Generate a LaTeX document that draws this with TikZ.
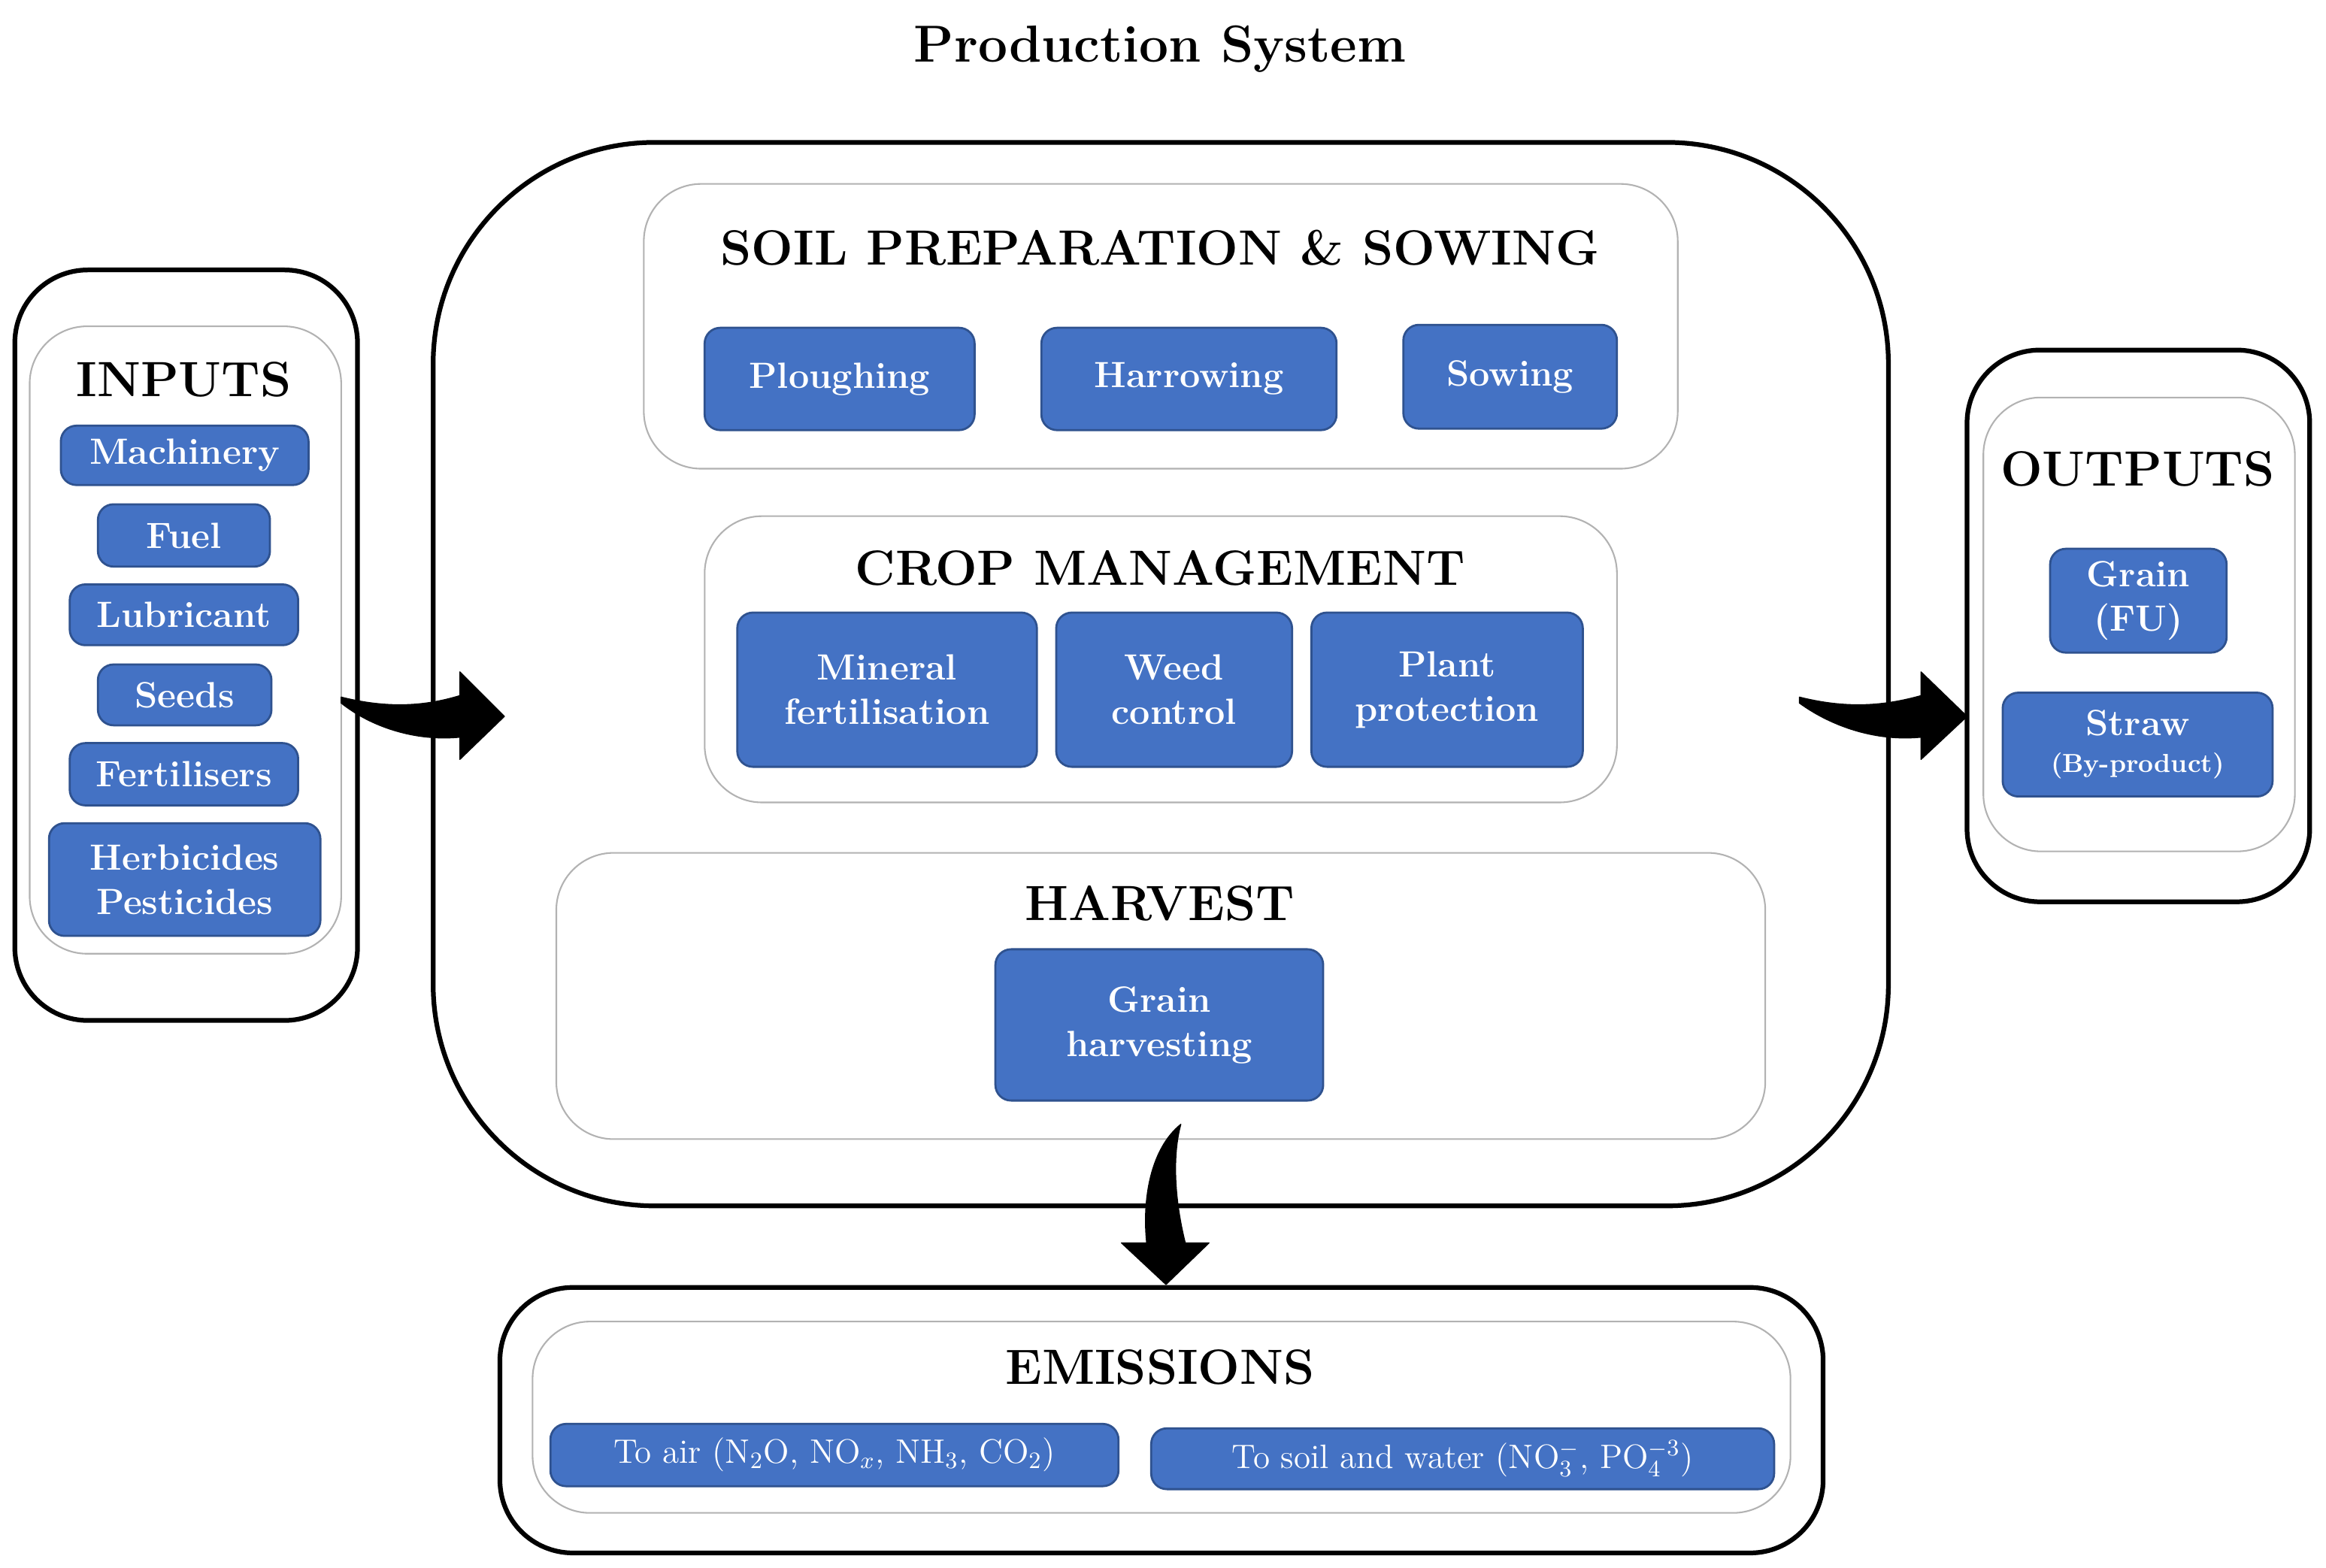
\documentclass[tikz,border=0pt]{standalone}
\usepackage{fontspec}
\definecolor{bfill}{RGB}{68,114,196}
\definecolor{bline}{RGB}{47,82,143}
\begin{document}
\begin{tikzpicture}[x=0.02cm,y=-0.02cm,
  outerbox/.style={draw=black,line width=1.8pt,rounded corners=28},
  mainbox/.style={draw=black,line width=1.8pt,rounded corners=85},
  innerbox/.style={draw=black!30,line width=0.6pt,rounded corners=22},
  bluebox/.style={draw=bline,fill=bfill,line width=0.8pt,rounded corners=6,text=white,font=\fontsize{14}{17}\selectfont\bfseries,align=center,inner sep=0pt},
  emis/.style={bluebox,font=\fontsize{13}{15}\selectfont},
  heading/.style={font=\fontsize{19}{22}\selectfont\bfseries},
  bigarrow/.style={fill=black,draw=black,line join=round}]
\useasboundingbox (0,0) rectangle (1568,1057);
\fill[white] (0,0) rectangle (1568,1057);
\node[font=\fontsize{20}{24}\selectfont\bfseries] (title) at (782,33) {Production System};
% inputs
\draw[outerbox] (10,182) rectangle (241,688);
\draw[innerbox] (20,220) rectangle (230,643);
\node[heading] (inputs) at (124,256) {INPUTS};
\node[bluebox,minimum width=3.34cm,minimum height=0.8cm] (mach) at (124.5,307) {Machinery};
\node[bluebox,minimum width=2.32cm,minimum height=0.84cm] (fuel) at (124,361) {Fuel};
\node[bluebox,minimum width=3.08cm,minimum height=0.82cm] (lub) at (124,414.5) {Lubricant};
\node[bluebox,minimum width=2.34cm,minimum height=0.82cm] (seeds) at (124.5,468.5) {Seeds};
\node[bluebox,minimum width=3.08cm,minimum height=0.84cm] (fert) at (124,522) {Fertilisers};
\node[bluebox,minimum width=3.66cm,minimum height=1.52cm] (herb) at (124.5,593) {Herbicides\\Pesticides};
% main
\draw[mainbox] (292,96) rectangle (1273,813);
\draw[innerbox] (434,124) rectangle (1131,316);
\node[heading] (soil) at (782,167) {SOIL PREPARATION \& SOWING};
\node[bluebox,minimum width=3.64cm,minimum height=1.38cm] (plough) at (566,255.5) {Ploughing};
\node[bluebox,minimum width=3.98cm,minimum height=1.38cm] (harrow) at (801.5,255.5) {Harrowing};
\node[bluebox,minimum width=2.88cm,minimum height=1.4cm] (sow) at (1018,254) {Sowing};
\draw[innerbox] (475,348) rectangle (1090,541);
\node[heading] (crop) at (782,383) {CROP MANAGEMENT};
\node[bluebox,minimum width=4.04cm,minimum height=2.08cm] (mineral) at (598,465) {Mineral\\fertilisation};
\node[bluebox,minimum width=3.18cm,minimum height=2.08cm] (weed) at (791.5,465) {Weed\\control};
\node[bluebox,minimum width=3.66cm,minimum height=2.08cm] (plant) at (975.5,465) {Plant\\protection};
\draw[innerbox] (375,575) rectangle (1190,768);
\node[heading] (harv) at (782,609) {HARVEST};
\node[bluebox,minimum width=4.42cm,minimum height=2.04cm] (grainh) at (781.5,691) {Grain\\harvesting};
% outputs
\draw[outerbox] (1326,236) rectangle (1557,608);
\draw[innerbox] (1337,268) rectangle (1547,574);
\node[heading] (outputs) at (1441,316) {OUTPUTS};
\node[bluebox,minimum width=2.38cm,minimum height=1.4cm] (grain) at (1441.5,405) {Grain\\(FU)};
\node[bluebox,minimum width=3.64cm,minimum height=1.4cm] (straw) at (1441,502) {Straw\\[-3pt]{\fontsize{10}{12}\selectfont(By-product)}};
% emissions
\draw[outerbox] (337,868) rectangle (1229,1047);
\draw[innerbox] (359,891) rectangle (1207,1020);
\node[heading] (emhead) at (782,922) {EMISSIONS};
\node[emis,minimum width=7.66cm,minimum height=0.84cm] (air) at (562.5,981) {To air (N$_2$O, NO$_x$, NH$_3$, CO$_2$)};
\node[emis,minimum width=8.4cm,minimum height=0.82cm] (soilw) at (986,983.5) {To soil and water (NO$_3^{-}$, PO$_4^{-3}$)};
% arrows
\fill[bigarrow] (230,470) .. controls (262,478) and (287,476) .. (310,469) -- (310,453) -- (340,483) -- (310,512) -- (310,497) .. controls (280,500) and (250,490) .. (230,474) -- cycle;
\fill[bigarrow] (1213,470) .. controls (1245,478) and (1270,476) .. (1295,469) -- (1295,453) -- (1326,483) -- (1295,512) -- (1295,497) .. controls (1265,500) and (1235,490) .. (1213,474) -- cycle;
\fill[bigarrow] (796,758) .. controls (775,775) and (770,810) .. (773,838) -- (756,838) -- (786,866) -- (815,838) -- (799,838) .. controls (792,810) and (790,780) .. (796,758) -- cycle;
\end{tikzpicture}
\end{document}
